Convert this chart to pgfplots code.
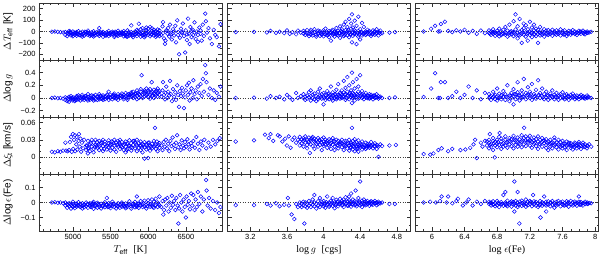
\documentclass[border=0pt]{standalone}
\usepackage{fontspec}
\setmainfont{Liberation Sans}
\newfontfamily\lserif{Liberation Serif}
\usepackage{pgfplots}
\usepackage{pgfplotstable}
\pgfplotsset{compat=1.18}

% ---------- column 1: Teff ----------
\pgfplotstableread{
x a b c
4720 -2 nan nan
4760 0 nan nan
4800 -3 nan nan
4835 -5 nan nan
4870 -8 nan nan
4900 -30 -5 nan
4925 -15 -40 nan
4950 -8 -25 5
4975 -35 -12 nan
5000 -20 0 -42
5025 -10 -28 nan
5050 -38 -5 -18
5075 -22 3 nan
5100 -12 -33 nan
5125 -27 -2 -45
5150 -15 -36 nan
5175 -6 -24 nan
5200 -30 -12 8
5225 -40 -18 nan
5250 -8 -26 nan
5275 -20 -44 2
5300 -14 -32 nan
5325 -25 -3 nan
5350 30 -18 -38
5375 -10 -28 nan
5400 -22 -4 -46
5425 -15 -34 nan
5450 -28 -8 nan
5475 -18 5 -40
5500 -12 -30 nan
5525 -24 -2 nan
5550 -35 -16 -48
5575 -8 -26 nan
5600 -20 6 -38
5625 -14 -30 nan
5650 -26 -4 nan
5675 -18 -42 4
5700 -10 -32 nan
5725 -24 10 -45
5750 -16 -36 nan
5775 53 -6 -22
5800 -30 -12 -50
5825 -2 -24 nan
5850 -16 -40 14
5875 68 -8 -28
5900 -20 20 -45
5925 -12 30 -34
5950 5 -26 -50
5975 -18 35 12
6000 -30 -4 25
6025 40 -15 -42
6050 8 -25 28
6075 -10 -35 15
6100 -20 5 -48
6125 18 -30 -8
6150 -15 -40 10
6175 -30 nan nan
6190 45 nan nan
6197 83 -15 nan
6210 -60 nan nan
6223 -108 nan nan
6230 -80 nan nan
6240 10 nan nan
6255 -20 5 nan
6265 30 nan nan
6280 -45 nan nan
6290 60 nan nan
6300 -10 -25 nan
6315 -70 nan nan
6330 20 nan nan
6345 -35 0 nan
6360 50 nan nan
6370 -95 nan nan
6385 98 nan nan
6397 -5 -30 nan
6410 -200 nan nan
6420 -55 nan nan
6435 25 nan nan
6450 -15 -5 nan
6460 70 nan nan
6475 -40 nan nan
6490 -184 nan nan
6500 10 nan nan
6515 -75 -25 nan
6530 113 nan nan
6540 -20 nan nan
6550 -110 nan nan
6560 40 nan nan
6575 -50 5 nan
6590 15 nan nan
6600 -30 nan nan
6615 80 -10 nan
6630 -65 nan nan
6645 0 nan nan
6660 -90 -30 nan
6680 35 nan nan
6695 -20 10 nan
6710 -80 nan nan
6725 60 nan nan
6740 -40 nan nan
6757 157 nan nan
6765 90 nan nan
6780 -10 nan nan
6800 30 nan nan
6820 -60 nan nan
6845 -110 nan nan
6870 15 nan nan
6890 -30 nan nan
6910 -50 nan nan
6940 -130 nan nan
6960 65 nan nan
}\tTa
\pgfplotstableread{
x y
4940 -18
4990 -28
5035 -14
5085 -32
5140 -20
5190 -8
5235 -30
5290 -16
5340 -26
5390 -12
5440 -36
5490 -22
5535 -10
5590 -30
5640 -16
5690 -26
5740 -6
5790 -34
5840 -20
5890 -10
5940 -30
5990 -14
6040 -28
6090 -6
6140 -26
4965 -2
5060 -24
5160 -2
5260 -36
5360 -4
5460 -20
5560 -2
5660 -14
5760 -28
5860 2
5960 -38
6060 -10
6110 -36
5710 -44
5610 -12
}\tTaX

\pgfplotstableread{
x a b c
4720 0 nan nan
4760 0.005 nan nan
4800 -0.005 nan nan
4835 0 nan nan
4870 -0.01 nan nan
4900 -0.03 0.01 nan
4925 -0.05 0.0 nan
4950 0.02 -0.02 -0.06
4975 -0.01 0.03 nan
5000 -0.04 0.01 -0.02
5025 0.0 -0.05 nan
5050 0.03 -0.03 0.01
5075 -0.02 0.04 nan
5100 0.0 -0.04 nan
5125 0.02 -0.02 0.05
5150 -0.03 0.01 nan
5175 0.03 -0.01 nan
5200 -0.04 0.02 0.06
5225 0.0 -0.03 nan
5250 0.04 -0.01 nan
5275 0.01 -0.04 0.03
5300 -0.02 0.05 nan
5325 0.02 -0.03 nan
5350 0.0 0.06 -0.02
5375 0.03 -0.01 nan
5400 -0.03 0.04 0.01
5425 0.02 -0.02 nan
5450 0.05 0.0 nan
5475 0.1 -0.03 0.02
5500 0.01 0.05 nan
5525 -0.02 0.03 nan
5550 0.04 0.0 0.07
5575 -0.01 0.03 nan
5600 0.02 0.06 -0.03
5625 0.0 0.04 nan
5650 0.07 0.02 nan
5675 -0.02 0.05 0.01
5700 0.03 0.08 nan
5725 0.0 0.05 -0.03
5750 0.04 0.01 nan
5775 0.09 0.02 0.06
5800 0.0 0.04 0.1
5825 0.07 0.02 nan
5850 0.03 0.12 -0.02
5875 0.06 0.0 nan
5900 0.1 0.03 0.14
5912 0.36 nan nan
5925 0.05 0.0 nan
5950 0.12 0.07 0.02
5975 0.15 0.04 nan
6000 0.09 0.02 0.12
6025 0.05 0.14 -0.01
6046 0.25 nan nan
6050 0.1 0.03 nan
6075 0.07 0.13 0.0
6100 0.04 0.1 nan
6125 0.08 0.02 0.15
6150 0.05 0.11 nan
6175 0.02 nan nan
6190 0.12 nan nan
6197 0.25 nan nan
6210 0.05 nan nan
6223 -0.02 nan nan
6230 0.08 nan nan
6240 0.18 nan nan
6255 0.0 nan nan
6265 0.1 nan nan
6280 0.04 nan nan
6290 0.27 nan nan
6300 0.06 nan nan
6315 -0.05 nan nan
6330 0.14 nan nan
6345 0.02 nan nan
6360 0.09 nan nan
6370 -0.03 nan nan
6385 0.2 nan nan
6397 0.05 nan nan
6410 -0.14 nan nan
6420 0.11 nan nan
6435 0.03 nan nan
6450 0.16 nan nan
6460 0.07 nan nan
6475 -0.16 nan nan
6490 0.01 nan nan
6500 0.12 nan nan
6515 0.2 nan nan
6530 0.05 nan nan
6540 0.24 nan nan
6550 -0.04 nan nan
6560 0.09 nan nan
6575 0.15 nan nan
6590 0.0 nan nan
6600 0.28 nan nan
6615 0.06 nan nan
6630 0.12 nan nan
6645 -0.02 nan nan
6660 0.18 nan nan
6680 0.08 nan nan
6695 0.22 nan nan
6710 0.03 nan nan
6725 0.3 nan nan
6740 0.1 nan nan
6757 0.52 nan nan
6765 0.39 nan nan
6775 0.25 nan nan
6800 0.05 nan nan
6820 0.15 nan nan
6845 0.0 nan nan
6870 0.12 nan nan
6890 -0.03 nan nan
6910 0.08 nan nan
6940 0.02 nan nan
6960 0.18 nan nan
}\tTb
\pgfplotstableread{
x y
4940 -0.01
4990 0.0
5035 -0.03
5085 0.02
5140 0.0
5190 -0.02
5235 0.03
5290 0.0
5340 0.02
5390 -0.01
5440 0.03
5490 0.0
5535 0.05
5590 0.02
5640 0.04
5690 0.01
5740 0.06
5790 0.03
5840 0.07
5890 0.05
5940 0.09
5990 0.06
6040 0.08
6090 0.06
6140 0.09
5060 0.0
5160 0.03
5260 -0.02
5360 0.03
5460 0.01
5560 0.02
5660 0.03
5760 0.05
5860 0.08
5960 0.1
6060 0.04
6110 0.12
}\tTbX

\pgfplotstableread{
x a b c
4720 0.009 nan nan
4760 0.008 nan nan
4800 0.01 nan nan
4835 0.009 nan nan
4870 0.011 nan nan
4900 0.025 nan nan
4910 0.011 nan nan
4930 0.01 nan nan
4950 0.012 nan nan
4960 0.026 nan nan
4975 0.035 nan nan
4985 0.009 nan nan
5000 0.04 nan nan
5005 0.014 nan nan
5015 0.03 nan nan
5025 0.038 nan nan
5030 0.01 nan nan
5045 0.022 nan nan
5050 0.035 nan nan
5060 0.013 nan nan
5075 0.028 nan nan
5080 0.04 nan nan
5090 0.018 nan nan
5100 0.032 nan nan
5110 0.009 nan nan
5120 0.025 nan nan
5135 0.015 nan nan
5150 0.03 nan nan
5175 0.02 0.012 nan
5200 0.028 0.015 0.006
5225 0.022 0.01 nan
5250 0.03 0.018 nan
5275 0.014 0.025 0.008
5300 0.021 0.03 nan
5325 0.016 0.026 nan
5350 0.012 0.028 0.02
5375 0.024 0.015 nan
5400 0.03 0.019 0.01
5425 0.022 0.027 nan
5450 0.013 0.02 nan
5475 0.029 0.017 0.024
5500 0.011 0.022 nan
5525 0.026 0.016 nan
5550 0.02 0.03 0.013
5575 0.025 0.009 nan
5600 0.018 0.028 nan
5625 0.022 0.014 0.03
5650 0.017 0.026 nan
5675 0.012 0.021 nan
5700 0.027 0.018 0.008
5725 0.023 0.014 nan
5750 0.029 0.019 nan
5775 0.011 0.024 0.017
5800 0.021 0.028 nan
5825 0.015 0.025 nan
5850 0.02 0.01 0.03
5875 0.024 0.016 nan
5900 0.019 0.027 0.012
5925 0.022 0.008 nan
5950 0.017 0.026 -0.003
5975 0.021 0.013 nan
6000 0.025 0.016 -0.002
6025 0.02 0.011 nan
6050 0.023 0.015 nan
6075 0.018 0.028 nan
6090 0.051 nan nan
6100 0.014 0.022 nan
6125 0.019 0.01 nan
6150 0.024 0.016 nan
6175 0.02 nan nan
6190 0.012 nan nan
6205 0.026 nan nan
6220 0.018 nan nan
6235 0.03 nan nan
6250 0.015 nan nan
6265 0.023 nan nan
6280 0.01 nan nan
6295 0.028 nan nan
6310 0.019 nan nan
6325 0.034 nan nan
6340 0.021 nan nan
6355 0.014 nan nan
6370 0.025 nan nan
6385 0.038 nan nan
6400 0.017 nan nan
6415 0.022 nan nan
6430 0.012 nan nan
6445 0.029 nan nan
6460 0.02 nan nan
6475 0.015 nan nan
6490 0.026 nan nan
6505 0.018 nan nan
6520 0.031 nan nan
6535 0.022 nan nan
6550 0.013 nan nan
6565 0.024 nan nan
6580 0.019 nan nan
6600 0.028 nan nan
6620 0.016 nan nan
6640 0.035 nan nan
6660 0.023 nan nan
6680 0.012 nan nan
6700 0.027 nan nan
6720 0.02 nan nan
6745 0.03 nan nan
6770 0.015 nan nan
6800 0.025 nan nan
6830 0.018 nan nan
6860 0.03 nan nan
6890 0.022 nan nan
6920 0.028 nan nan
6950 0.033 nan nan
}\tTc
\pgfplotstableread{
x y
5190 0.02
5240 0.024
5290 0.017
5340 0.022
5390 0.025
5440 0.018
5490 0.02
5540 0.024
5590 0.021
5640 0.019
5690 0.023
5740 0.02
5790 0.016
5840 0.022
5890 0.02
5940 0.021
5990 0.019
6040 0.018
6090 0.02
6140 0.021
5215 0.015
5315 0.019
5415 0.014
5515 0.027
5615 0.025
5715 0.012
5815 0.028
5915 0.016
6015 0.025
6115 0.027
}\tTcX

\pgfplotstableread{
x a b c
4720 0 nan nan
4760 0.002 nan nan
4800 -0.002 nan nan
4835 0 nan nan
4870 -0.005 nan nan
4900 -0.02 0.0 nan
4925 -0.035 -0.01 nan
4950 -0.005 -0.025 nan
4975 -0.04 -0.015 nan
5000 -0.01 -0.03 0.005
5025 -0.02 -0.038 nan
5050 -0.008 -0.028 nan
5075 -0.018 0.002 nan
5100 -0.03 -0.012 nan
5125 -0.04 -0.005 -0.022
5150 -0.015 -0.032 nan
5175 -0.025 0.0 nan
5200 -0.01 -0.035 nan
5225 -0.02 -0.005 nan
5250 -0.03 -0.015 nan
5275 -0.042 -0.008 0.004
5300 -0.022 -0.012 nan
5325 -0.035 -0.002 nan
5350 -0.018 -0.028 nan
5375 -0.008 -0.04 nan
5400 -0.025 -0.015 nan
5425 0.002 -0.032 nan
5450 0.03 -0.018 -0.01
5475 -0.028 -0.004 nan
5500 -0.015 -0.038 nan
5525 -0.022 0.005 nan
5550 -0.01 -0.03 nan
5575 -0.04 -0.018 nan
5600 -0.005 -0.025 nan
5625 -0.015 -0.035 nan
5650 -0.028 0.0 nan
5675 -0.012 -0.022 nan
5700 -0.038 -0.006 nan
5725 -0.02 -0.03 nan
5750 0.008 -0.014 nan
5775 -0.026 -0.04 nan
5800 -0.01 -0.02 nan
5825 -0.032 0.004 nan
5850 0.04 -0.018 -0.028
5875 -0.008 -0.036 nan
5900 -0.02 0.01 nan
5925 -0.03 -0.012 nan
5950 0.012 -0.024 nan
5975 -0.016 -0.04 nan
6000 -0.005 0.015 nan
6025 -0.028 -0.012 nan
6050 0.02 -0.02 nan
6075 -0.035 0.005 nan
6100 -0.015 0.025 nan
6125 -0.03 0.0 nan
6150 0.04 -0.02 nan
6175 -0.03 nan nan
6190 0.01 nan nan
6200 -0.08 nan nan
6210 -0.05 nan nan
6225 0.02 nan nan
6240 -0.02 nan nan
6255 0.03 nan nan
6270 -0.06 nan nan
6285 0.0 nan nan
6300 -0.035 nan nan
6315 0.045 nan nan
6330 -0.015 nan nan
6345 0.01 nan nan
6360 -0.05 nan nan
6375 0.03 nan nan
6390 -0.02 nan nan
6400 -0.14 nan nan
6410 -0.04 nan nan
6425 0.05 nan nan
6440 0.0 nan nan
6455 -0.06 nan nan
6470 0.02 nan nan
6485 -0.03 nan nan
6500 -0.1 nan nan
6510 0.04 nan nan
6525 -0.015 nan nan
6540 0.01 nan nan
6555 -0.045 nan nan
6570 0.06 nan nan
6585 -0.02 nan nan
6600 0.05 nan nan
6615 -0.05 nan nan
6630 0.02 nan nan
6645 -0.03 nan nan
6660 0.07 nan nan
6680 -0.01 nan nan
6700 0.04 nan nan
6720 -0.06 nan nan
6740 0.02 nan nan
6770 0.15 nan nan
6775 0.08 nan nan
6790 -0.02 nan nan
6810 0.03 nan nan
6830 -0.04 nan nan
6860 0.01 nan nan
6890 -0.05 nan nan
6915 0.0 nan nan
6940 -0.07 nan nan
6960 -0.03 nan nan
}\tTd
\pgfplotstableread{
x y
4940 -0.015
4990 -0.022
5035 -0.01
5085 -0.025
5140 -0.018
5190 -0.012
5235 -0.028
5290 -0.02
5340 -0.01
5390 -0.022
5440 -0.015
5490 -0.025
5535 -0.012
5590 -0.02
5640 -0.008
5690 -0.028
5740 -0.018
5790 -0.01
5840 -0.022
5890 -0.015
5940 -0.005
5990 -0.025
6040 -0.01
6090 -0.02
6140 -0.012
5060 -0.018
5260 -0.005
5460 -0.03
5660 -0.018
5860 -0.008
6060 -0.03
}\tTdX

% ---------- column 2: log g ----------
\pgfplotstableread{
x a b c
3.04 -5 nan nan
3.24 -3 nan nan
3.38 -8 nan nan
3.42 5 nan nan
3.48 -12 nan nan
3.52 -2 nan nan
3.57 -15 nan nan
3.60 10 nan nan
3.63 -20 nan nan
3.66 -5 nan nan
3.70 -25 nan nan
3.72 8 nan nan
3.75 -10 nan nan
3.78 -18 5 nan
3.80 -30 -8 nan
3.82 -12 12 nan
3.84 -40 -20 nan
3.86 0 -25 15
3.88 -15 -35 nan
3.90 -5 20 nan
3.92 -28 -45 nan
3.94 -10 8 -20
3.96 -38 2 nan
3.98 -18 -30 nan
4.00 10 -6 -42
4.02 -24 25 nan
4.04 -12 -34 nan
4.06 4 -50 -20
4.08 -8 -80 nan
4.10 -30 15 -16
4.12 -45 0 nan
4.14 -22 30 -10
4.16 -36 5 nan
4.18 -14 45 -55
4.20 -4 -26 20
4.22 60 -40 -10
4.24 12 -20 85
4.26 -32 0 40
4.28 110 -12 -50
4.30 25 -22 70
4.31 150 -95 nan
4.32 -6 35 -38
4.34 95 -16 10
4.36 -110 50 -28
4.38 5 -45 130
4.40 -20 20 -70
4.42 75 -8 -35
4.44 -18 40 nan
4.46 0 -30 nan
4.48 -12 15 nan
4.50 -25 5 nan
4.52 -8 -40 nan
4.54 10 -18 nan
4.56 -28 0 nan
4.58 -10 20 nan
4.60 -35 -5 nan
4.62 8 -20 nan
4.64 -15 nan nan
4.72 -10 nan nan
4.78 -5 nan nan
}\tGa
\pgfplotstableread{
x y
3.97 -12
4.01 -20
4.03 0
4.05 -28
4.07 -10
4.09 8
4.11 -22
4.13 -5
4.15 -30
4.17 -12
4.19 5
4.21 -18
4.23 -30
4.25 -8
4.27 10
4.29 -26
4.31 -10
4.33 -24
4.35 2
4.37 -14
4.39 -30
4.41 -4
4.43 -20
4.45 -10
4.47 -22
4.49 -2
4.51 -14
4.53 -26
4.55 -6
4.57 -16
4.61 -10
}\tGaX

\pgfplotstableread{
x a b c
3.04 0 nan nan
3.24 0.005 nan nan
3.38 -0.01 nan nan
3.42 0.03 nan nan
3.48 0.0 nan nan
3.52 0.02 nan nan
3.57 -0.02 nan nan
3.60 0.05 nan nan
3.63 0.01 nan nan
3.66 -0.03 nan nan
3.70 0.08 nan nan
3.72 0.0 nan nan
3.75 0.03 nan nan
3.78 0.0 0.06 nan
3.80 -0.03 0.02 nan
3.82 0.04 -0.01 nan
3.84 0.09 0.01 nan
3.86 -0.04 0.03 0.12
3.88 0.0 0.05 nan
3.90 -0.02 0.07 nan
3.92 0.03 -0.05 nan
3.94 0.1 0.01 -0.02
3.96 0.04 0.15 nan
3.98 -0.01 0.06 nan
4.00 0.02 -0.1 0.08
4.02 0.05 -0.03 nan
4.04 0.0 0.11 nan
4.06 0.07 -0.02 0.03
4.08 0.18 0.01 nan
4.10 0.04 -0.04 0.09
4.12 0.0 0.06 nan
4.14 0.13 0.02 -0.02
4.16 0.05 0.22 nan
4.18 -0.01 0.08 0.03
4.20 0.12 0.0 0.05
4.22 0.27 0.02 0.09
4.24 -0.03 0.06 0.16
4.26 0.03 0.33 0.1
4.28 0.07 -0.02 0.2
4.30 0.01 0.12 0.05
4.31 0.4 -0.08 nan
4.32 0.08 0.25 0.0
4.34 0.04 0.15 -0.04
4.36 0.3 0.06 0.02
4.38 0.1 -0.01 0.18
4.40 0.03 0.07 0.36
4.42 0.0 0.11 nan
4.44 0.05 -0.02 nan
4.46 0.08 0.02 nan
4.48 0.0 0.04 nan
4.50 0.06 -0.01 nan
4.52 0.02 0.05 nan
4.54 -0.02 0.03 nan
4.56 0.04 0.0 nan
4.58 0.01 0.06 nan
4.60 -0.01 0.03 nan
4.62 0.02 nan nan
4.64 0.0 nan nan
4.72 0.0 nan nan
4.78 0.01 nan nan
}\tGb
\pgfplotstableread{
x y
3.97 0.02
4.01 0.0
4.03 0.04
4.05 0.01
4.07 0.05
4.09 -0.01
4.11 0.03
4.13 0.06
4.15 0.0
4.17 0.04
4.19 0.07
4.21 0.02
4.23 0.05
4.25 0.0
4.27 0.04
4.29 0.08
4.31 0.03
4.33 0.06
4.35 0.01
4.37 0.04
4.39 0.0
4.41 0.05
4.43 0.02
4.45 0.04
4.47 0.01
4.49 0.03
4.51 0.0
4.53 0.02
4.55 0.04
4.57 0.01
4.61 0.01
}\tGbX

\pgfplotstableread{
x a b c
3.04 0.027 nan nan
3.24 0.029 nan nan
3.36 0.039 nan nan
3.40 0.033 nan nan
3.42 0.04 nan nan
3.45 0.028 nan nan
3.50 0.038 nan nan
3.52 0.036 nan nan
3.55 0.027 nan nan
3.58 0.032 nan nan
3.60 0.02 nan nan
3.62 0.036 nan nan
3.64 0.016 nan nan
3.66 0.03 nan nan
3.68 0.034 nan nan
3.70 0.025 nan nan
3.72 0.03 nan nan
3.74 0.027 0.035 0.02
3.76 0.031 0.024 nan
3.78 0.018 0.033 0.028
3.80 0.025 0.036 nan
3.82 0.03 0.021 0.015
3.84 0.034 0.026 nan
3.85 0.007 nan nan
3.86 0.022 0.031 0.028
3.88 0.035 0.019 nan
3.90 0.027 0.014 0.032
3.92 0.023 0.03 nan
3.94 0.018 0.033 0.026
3.96 0.029 0.021 nan
3.98 0.012 0.031 0.025
4.00 0.027 0.019 0.034
4.02 0.022 0.03 nan
4.04 0.016 0.028 0.024
4.06 0.031 0.02 nan
4.08 0.025 0.014 0.029
4.10 0.021 0.033 nan
4.12 0.018 0.027 0.012
4.14 0.024 0.03 nan
4.16 0.02 0.015 0.028
4.18 0.026 0.022 nan
4.20 0.017 0.03 0.024
4.22 0.021 0.012 nan
4.24 0.028 0.019 0.025
4.26 0.015 0.023 nan
4.28 0.03 0.02 0.011
4.30 0.025 0.017 0.022
4.31 0.051 nan nan
4.32 0.013 0.028 0.019
4.34 0.024 0.01 0.031
4.36 0.018 0.026 0.014
4.38 0.022 0.009 0.029
4.40 0.016 0.024 0.02
4.42 0.027 0.013 nan
4.44 0.021 0.017 nan
4.46 0.025 0.014 nan
4.48 0.019 0.023 nan
4.50 0.016 0.022 nan
4.52 0.02 0.026 nan
4.54 0.015 0.022 nan
4.56 0.019 0.024 nan
4.58 0.021 0.014 nan
4.60 0.018 0.0 nan
4.62 0.022 nan nan
4.64 0.019 nan nan
4.72 0.02 nan nan
4.79 0.021 nan nan
}\tGc
\pgfplotstableread{
x y
3.79 0.03
3.83 0.027
3.87 0.033
3.91 0.025
3.95 0.029
3.99 0.022
4.03 0.026
4.07 0.023
4.11 0.028
4.15 0.021
4.19 0.025
4.23 0.02
4.27 0.024
4.29 0.016
4.31 0.021
4.33 0.018
4.35 0.022
4.37 0.015
4.39 0.019
4.41 0.022
4.43 0.018
4.45 0.02
4.47 0.016
4.49 0.02
4.51 0.018
4.55 0.019
4.59 0.02
}\tGcX

\pgfplotstableread{
x a b c
3.04 -0.018 nan nan
3.24 -0.018 nan nan
3.38 -0.01 nan nan
3.42 -0.02 nan nan
3.48 -0.005 nan nan
3.52 -0.025 nan nan
3.57 -0.015 nan nan
3.61 0.03 nan nan
3.62 -0.02 nan nan
3.65 -0.08 nan nan
3.68 -0.11 nan nan
3.70 -0.01 nan nan
3.72 -0.03 nan nan
3.74 -0.02 0.0 nan
3.76 -0.01 -0.03 nan
3.78 0.005 -0.018 nan
3.79 -0.14 nan nan
3.80 -0.025 0.0 nan
3.82 -0.012 -0.035 nan
3.84 0.01 -0.02 nan
3.86 -0.03 -0.005 nan
3.88 0.02 -0.015 nan
3.90 0.05 -0.025 0.0
3.92 -0.01 -0.04 nan
3.94 0.008 -0.02 nan
3.96 -0.03 0.03 nan
3.98 -0.012 0.005 nan
4.00 -0.025 0.01 nan
4.02 -0.005 -0.035 nan
4.04 0.04 -0.015 nan
4.06 -0.028 0.0 nan
4.08 0.012 -0.01 nan
4.10 -0.022 0.03 nan
4.12 0.0 -0.038 nan
4.14 0.018 -0.012 nan
4.16 -0.025 0.006 nan
4.18 0.025 -0.005 nan
4.20 -0.018 0.01 nan
4.22 0.0 -0.03 0.02
4.24 -0.01 0.035 nan
4.26 0.008 -0.022 nan
4.28 -0.012 0.015 0.04
4.30 0.0 -0.028 0.06
4.32 0.02 -0.008 nan
4.34 -0.018 0.01 nan
4.35 0.08 nan nan
4.36 0.005 -0.025 nan
4.38 0.03 -0.01 nan
4.40 0.14 0.0 -0.02
4.42 0.012 -0.03 nan
4.44 -0.008 0.02 nan
4.46 0.005 -0.018 nan
4.48 -0.01 0.01 nan
4.50 0.0 -0.022 nan
4.52 -0.012 0.008 nan
4.54 0.004 -0.015 nan
4.56 -0.005 0.01 nan
4.58 -0.018 0.0 nan
4.60 0.005 -0.01 nan
4.62 -0.005 nan nan
4.64 0.0 nan nan
4.72 -0.01 nan nan
4.78 -0.01 nan nan
}\tGd
\pgfplotstableread{
x y
3.97 -0.008
4.01 -0.015
4.03 0.002
4.05 -0.01
4.07 -0.02
4.09 0.0
4.11 -0.008
4.13 -0.018
4.15 0.004
4.17 -0.012
4.19 -0.002
4.21 -0.015
4.23 0.005
4.25 -0.008
4.27 -0.02
4.29 0.002
4.31 -0.012
4.33 0.0
4.35 -0.015
4.37 -0.004
4.39 0.006
4.41 -0.01
4.43 -0.002
4.45 -0.012
4.47 0.0
4.49 -0.006
4.51 0.004
4.53 -0.008
4.57 -0.004
4.61 -0.002
}\tGdX

% ---------- column 3: log eps(Fe) ----------
\pgfplotstableread{
x a b c
5.90 0 nan nan
5.99 24 nan nan
6.04 50 nan nan
6.08 0 nan nan
6.10 2 nan nan
6.11 66 nan nan
6.16 86 nan nan
6.20 5 nan nan
6.25 -5 nan nan
6.30 10 nan nan
6.35 0 nan nan
6.40 15 nan nan
6.45 -10 nan nan
6.50 5 nan nan
6.55 -20 nan nan
6.60 8 nan nan
6.65 -15 nan nan
6.700 -12 10 nan
6.725 -30 0 nan
6.750 -5 -20 20
6.775 -38 -10 nan
6.800 5 -25 nan
6.825 -15 25 -42
6.850 -2 -32 nan
6.875 15 -18 nan
6.900 -28 40 -8
6.925 -45 8 nan
6.950 -14 60 -30
6.975 2 -22 nan
7.000 90 -40 -6
7.025 18 -26 150
7.050 -12 45 -60
7.075 110 -2 -34
7.100 -100 12 -18
7.125 70 -28 30
7.150 -8 -45 55
7.175 20 -16 -80
7.200 85 -30 0
7.225 -10 35 -50
7.250 10 -24 60
7.275 -40 -4 25
7.300 -100 15 -20
7.325 40 -12 -35
7.350 0 -28 nan
7.375 20 -8 -45
7.400 -18 8 nan
7.425 -30 12 nan
7.450 -6 -22 nan
7.475 15 -38 nan
7.500 -12 0 nan
7.525 -28 10 nan
7.550 -4 -20 nan
7.575 18 -35 nan
7.600 -15 2 nan
7.625 -25 10 nan
7.650 -8 -40 nan
7.675 5 -18 nan
7.700 -28 -2 nan
7.725 12 -15 nan
7.750 -22 0 nan
7.775 -8 -30 nan
7.800 6 -15 nan
7.825 -20 0 nan
7.850 -10 8 nan
7.875 -25 -5 nan
7.900 0 -12 nan
7.925 -8 nan nan
7.950 -3 nan nan
}\tEa
\pgfplotstableread{
x y
6.71 -20
6.76 -8
6.81 -15
6.86 -22
6.91 -14
6.96 -2
7.01 -18
7.06 -30
7.11 -8
7.16 -20
7.21 -12
7.26 -28
7.31 -6
7.36 -16
7.41 -26
7.46 -10
7.51 -20
7.56 -12
7.61 -26
7.66 -20
7.71 -12
7.76 -16
7.81 -6
7.86 -18
7.91 -10
}\tEaX

\pgfplotstableread{
x a b c
5.90 0.016 nan nan
5.99 0.15 nan nan
6.04 0.39 nan nan
6.08 0.0 nan nan
6.10 0.0 nan nan
6.11 0.25 nan nan
6.16 0.25 nan nan
6.20 0.0 nan nan
6.25 0.03 nan nan
6.30 0.1 nan nan
6.35 0.0 nan nan
6.40 0.05 nan nan
6.45 0.18 nan nan
6.50 0.0 nan nan
6.55 0.12 nan nan
6.60 -0.02 nan nan
6.65 0.08 nan nan
6.700 0.0 0.06 nan
6.725 0.03 -0.03 nan
6.750 0.1 0.01 nan
6.775 -0.02 0.05 nan
6.800 0.02 0.15 -0.04
6.825 0.07 0.0 nan
6.850 0.04 -0.02 nan
6.875 0.11 0.02 nan
6.900 -0.03 0.06 nan
6.925 0.2 0.01 nan
6.950 0.04 -0.05 nan
6.975 0.08 0.0 nan
7.000 -0.1 0.03 0.14
7.025 0.06 -0.02 nan
7.050 0.25 0.01 0.09
7.075 0.04 -0.04 nan
7.100 0.12 0.0 0.06
7.125 0.3 0.02 nan
7.150 -0.02 0.08 nan
7.175 0.05 0.17 nan
7.200 0.0 0.1 0.03
7.225 0.22 -0.03 nan
7.250 0.06 0.02 nan
7.275 0.13 -0.01 nan
7.300 0.04 0.28 nan
7.325 0.0 0.08 nan
7.350 0.15 0.03 nan
7.375 -0.02 0.06 nan
7.400 0.1 0.01 nan
7.425 0.04 -0.03 nan
7.450 0.07 0.0 nan
7.475 0.02 0.12 nan
7.500 -0.02 0.05 nan
7.525 0.08 0.01 nan
7.550 0.03 -0.03 nan
7.575 0.06 0.0 nan
7.600 0.02 0.09 nan
7.625 -0.02 0.04 nan
7.650 0.06 0.0 nan
7.675 0.02 -0.03 nan
7.700 0.05 0.0 nan
7.725 0.01 0.07 nan
7.750 -0.02 0.03 nan
7.775 0.04 0.0 nan
7.800 0.02 -0.02 nan
7.825 0.05 0.0 nan
7.850 0.01 0.03 nan
7.875 -0.01 0.02 nan
7.900 0.0 0.04 nan
7.925 0.01 nan nan
7.950 0.0 nan nan
}\tEb
\pgfplotstableread{
x y
6.71 0.02
6.76 0.03
6.81 0.0
6.86 0.05
6.91 0.02
6.96 0.03
7.01 0.06
7.06 0.04
7.11 0.02
7.16 0.04
7.21 0.06
7.26 0.03
7.31 0.05
7.36 0.01
7.41 0.04
7.46 0.03
7.51 0.02
7.56 0.04
7.61 0.0
7.66 0.03
7.71 0.02
7.76 0.01
7.81 0.03
7.86 0.0
7.91 0.02
}\tEbX

\pgfplotstableread{
x a b c
5.90 0.005 nan nan
5.98 0.004 nan nan
6.02 0.006 nan nan
6.08 0.012 nan nan
6.12 0.015 nan nan
6.20 0.01 nan nan
6.25 0.014 nan nan
6.35 0.012 nan nan
6.41 0.013 nan nan
6.47 0.016 nan nan
6.51 0.022 nan nan
6.53 0.03 nan nan
6.55 -0.002 nan nan
6.60 0.025 nan nan
6.62 0.018 nan nan
6.65 0.028 nan nan
6.71 0.04 nan nan
6.77 -0.001 nan nan
6.83 0.042 nan nan
7.13 0.051 nan nan
6.675 0.02 0.027 nan
6.700 0.015 0.025 0.03
6.725 0.022 0.018 nan
6.750 0.028 0.012 0.033
6.775 0.02 0.026 nan
6.800 0.017 0.03 0.023
6.825 0.035 0.021 nan
6.850 0.014 0.027 0.032
6.875 0.024 0.018 nan
6.900 0.03 0.02 0.036
6.925 0.026 0.016 nan
6.950 0.033 0.022 0.028
6.975 0.019 0.031 nan
7.000 0.025 0.037 0.015
7.025 0.029 0.021 nan
7.050 0.034 0.018 0.026
7.075 0.023 0.031 nan
7.100 0.038 0.027 0.017
7.125 0.022 0.033 nan
7.150 0.029 0.019 0.036
7.175 0.025 0.032 nan
7.200 0.02 0.03 0.037
7.225 0.026 0.016 nan
7.250 0.034 0.023 0.029
7.275 0.019 0.031 nan
7.300 0.027 0.036 0.014
7.325 0.022 0.03 nan
7.350 0.033 0.018 0.026
7.375 0.024 0.029 nan
7.400 0.016 0.031 0.021
7.425 0.027 0.012 nan
7.450 0.022 0.03 0.018
7.475 0.025 0.015 nan
7.500 0.029 0.02 0.034
7.525 0.017 0.025 nan
7.550 0.022 0.03 0.013
7.575 0.026 0.018 nan
7.600 0.02 0.028 0.015
7.625 0.023 0.017 nan
7.650 0.027 0.019 0.012
7.675 0.022 0.025 nan
7.700 0.016 0.024 0.02
7.725 0.021 0.013 nan
7.750 0.018 0.025 0.022
7.775 0.015 0.02 nan
7.800 0.023 0.017 0.026
7.825 0.019 0.014 nan
7.850 0.021 0.025 nan
7.875 0.017 0.022 nan
7.900 0.02 0.015 nan
7.925 0.022 nan nan
7.950 0.018 nan nan
}\tEc
\pgfplotstableread{
x y
6.71 0.021
6.76 0.024
6.81 0.026
6.86 0.022
6.91 0.025
6.96 0.027
7.01 0.03
7.06 0.024
7.11 0.029
7.16 0.026
7.21 0.028
7.26 0.025
7.31 0.022
7.36 0.028
7.41 0.025
7.46 0.024
7.51 0.022
7.56 0.02
7.61 0.023
7.66 0.021
7.71 0.019
7.76 0.02
7.81 0.02
7.86 0.018
7.91 0.019
}\tEcX

\pgfplotstableread{
x a b c
5.90 0 nan nan
5.98 0.005 nan nan
6.05 0.0 nan nan
6.10 0.01 nan nan
6.12 0.04 nan nan
6.18 0.0 nan nan
6.20 0.04 nan nan
6.25 -0.005 nan nan
6.30 0.01 nan nan
6.32 0.025 nan nan
6.38 -0.02 nan nan
6.42 0.0 nan nan
6.45 0.02 nan nan
6.50 -0.02 nan nan
6.55 0.005 nan nan
6.60 -0.01 nan nan
6.65 0.01 nan nan
6.700 -0.01 0.005 nan
6.725 -0.02 0.0 nan
6.750 0.008 -0.015 nan
6.775 -0.025 -0.005 nan
6.800 0.01 -0.018 nan
6.825 -0.008 -0.03 nan
6.850 0.003 -0.012 nan
6.875 -0.022 0.05 nan
6.900 0.0 -0.01 0.07
6.925 -0.025 0.012 nan
6.950 -0.005 -0.015 nan
6.975 0.008 -0.028 nan
7.000 -0.012 0.002 nan
7.010 0.14 -0.06 nan
7.025 -0.02 0.01 nan
7.050 0.0 -0.03 0.07
7.070 -0.14 nan nan
7.075 -0.012 0.006 nan
7.100 -0.022 0.012 nan
7.125 0.0 -0.015 nan
7.150 -0.008 0.02 -0.028
7.175 0.005 -0.018 nan
7.200 -0.01 0.01 nan
7.225 -0.025 0.0 nan
7.240 0.05 nan nan
7.250 0.008 -0.012 nan
7.275 -0.02 0.004 nan
7.300 -0.006 -0.03 nan
7.325 0.01 -0.015 nan
7.330 -0.1 nan nan
7.350 -0.022 0.002 nan
7.375 0.04 -0.01 nan
7.400 -0.06 0.005 -0.02
7.425 -0.012 0.008 nan
7.450 -0.025 0.0 nan
7.475 0.01 -0.015 nan
7.500 -0.035 -0.005 nan
7.525 0.004 -0.02 nan
7.550 -0.01 0.01 nan
7.575 -0.025 0.0 nan
7.600 0.006 -0.012 nan
7.625 -0.02 -0.003 nan
7.650 0.008 -0.015 nan
7.675 -0.028 0.0 nan
7.700 -0.01 0.01 nan
7.725 0.002 -0.02 nan
7.750 -0.012 0.006 nan
7.775 -0.022 0.0 nan
7.800 0.04 -0.008 0.005
7.825 -0.015 0.003 nan
7.850 -0.005 -0.02 nan
7.875 0.005 -0.01 nan
7.900 -0.008 0.0 nan
7.925 -0.003 nan nan
7.950 -0.005 nan nan
}\tEd
\pgfplotstableread{
x y
6.71 -0.005
6.76 -0.012
6.81 -0.002
6.86 -0.008
6.91 -0.018
6.96 0.0
7.01 -0.008
7.06 -0.015
7.11 -0.004
7.16 -0.012
7.21 0.002
7.26 -0.008
7.31 -0.018
7.36 -0.006
7.41 -0.012
7.46 -0.002
7.51 -0.014
7.56 -0.006
7.61 -0.018
7.66 -0.004
7.71 -0.012
7.76 -0.008
7.81 -0.014
7.86 -0.002
7.91 -0.01
}\tEdX

\pgfplotsset{
  panel/.style={
    scale only axis, width=183pt, height=57pt, anchor=south west,
    clip mode=individual,
    scaled x ticks=false, scaled y ticks=false,
    axis line style={draw=black!80, line width=0.8pt},
    every tick/.style={black!80, line width=0.45pt},
    major tick length=4pt, minor tick length=2pt, tick align=inside,
    tick label style={font=\fontsize{7.5}{8}\selectfont},
    label style={font=\fontsize{8}{9}\selectfont},
    every axis y label/.style={at={(axis description cs:-0.169,0.5)}, rotate=90, anchor=center},
    every axis x label/.style={at={(axis description cs:0.5,-0.33)}, anchor=center},
    xticklabels={}, yticklabels={},
  },
  colT/.style={xmin=4550, xmax=6980, xtick={5000,5500,6000,6500},
    minor xtick={4600,4700,...,6900}},
  colG/.style={xmin=2.95, xmax=4.95, xtick={3.2,3.6,4,4.4,4.8},
    minor xtick={3.0,3.1,...,4.9}},
  colE/.style={xmin=5.8, xmax=8.04, xtick={6,6.4,6.8,7.2,7.6,8},
    minor xtick={5.9,6.0,...,8.0}},
  rowA/.style={ymin=-250, ymax=250, ytick={-200,-100,0,100,200},
    minor ytick={-250,-200,...,250}},
  rowB/.style={ymin=-0.3, ymax=0.6, ytick={-0.2,0,0.2,0.4},
    minor ytick={-0.3,-0.2,...,0.6}},
  rowC/.style={ymin=-0.03, ymax=0.07, ytick={0,0.03,0.06},
    minor ytick={-0.03,-0.02,...,0.07}},
  rowD/.style={ymin=-0.19, ymax=0.19, ytick={-0.1,0,0.1},
    minor ytick={-0.15,-0.1,...,0.15}},
  pts/.style={only marks, mark=o, mark size=1.9pt, color=blue, mark options={line width=0.5pt}},
  zl/.style={black!75, dotted, line width=0.5pt, forget plot},
}

\newcommand{\pts}[2]{%
  \addplot[pts] table[x=x,y=a] {#1};
  \addplot[pts] table[x=x,y=b] {#1};
  \addplot[pts] table[x=x,y=c] {#1};
  \addplot[pts] table[x=x,y=y] {#2};
}

\begin{document}
\begin{tikzpicture}
\path[use as bounding box] (0,0) rectangle (600pt,255pt);

% ===== column 1 =====
\begin{axis}[panel, colT, rowA, at={(39pt,195pt)},
  yticklabels={−200,−100,0,100,200},
  ylabel={$\Delta T_{\rm eff}$ [K]}]
  \addplot[zl] coordinates {(4550,0) (6980,0)};
  \pts{\tTa}{\tTaX}
\end{axis}
\begin{axis}[panel, colT, rowB, at={(39pt,138pt)},
  yticklabels={−0.2,0,0.2,0.4},
  ylabel={$\Delta$log\,$g$}]
  \addplot[zl] coordinates {(4550,0) (6980,0)};
  \pts{\tTb}{\tTbX}
\end{axis}
\begin{axis}[panel, colT, rowC, at={(39pt,81pt)},
  yticklabels={0,0.03,0.06},
  ylabel={$\Delta\xi_{\rm t}$ [km/s]}]
  \addplot[zl] coordinates {(4550,0) (6980,0)};
  \pts{\tTc}{\tTcX}
\end{axis}
\begin{axis}[panel, colT, rowD, at={(39pt,24pt)},
  yticklabels={−0.1,0,0.1},
  xticklabels={5000,5500,6000,6500},
  ylabel={$\Delta$log\,$\epsilon$(Fe)},
  xlabel={$T_{\rm eff}$\ \ {\lserif[K]}}]
  \addplot[zl] coordinates {(4550,0) (6980,0)};
  \pts{\tTd}{\tTdX}
\end{axis}

% ===== column 2 =====
\begin{axis}[panel, colG, rowA, at={(227.5pt,195pt)}]
  \addplot[zl] coordinates {(2.95,0) (4.95,0)};
  \pts{\tGa}{\tGaX}
\end{axis}
\begin{axis}[panel, colG, rowB, at={(227.5pt,138pt)}]
  \addplot[zl] coordinates {(2.95,0) (4.95,0)};
  \pts{\tGb}{\tGbX}
\end{axis}
\begin{axis}[panel, colG, rowC, at={(227.5pt,81pt)}]
  \addplot[zl] coordinates {(2.95,0) (4.95,0)};
  \pts{\tGc}{\tGcX}
\end{axis}
\begin{axis}[panel, colG, rowD, at={(227.5pt,24pt)},
  xticklabels={3.2,3.6,4,4.4,4.8},
  xlabel={{\lserif log}\,$g$\ \ {\lserif [cgs]}}]
  \addplot[zl] coordinates {(2.95,0) (4.95,0)};
  \pts{\tGd}{\tGdX}
\end{axis}

% ===== column 3 =====
\begin{axis}[panel, colE, rowA, at={(415.5pt,195pt)}]
  \addplot[zl] coordinates {(5.8,0) (8.04,0)};
  \pts{\tEa}{\tEaX}
\end{axis}
\begin{axis}[panel, colE, rowB, at={(415.5pt,138pt)}]
  \addplot[zl] coordinates {(5.8,0) (8.04,0)};
  \pts{\tEb}{\tEbX}
\end{axis}
\begin{axis}[panel, colE, rowC, at={(415.5pt,81pt)}]
  \addplot[zl] coordinates {(5.8,0) (8.04,0)};
  \pts{\tEc}{\tEcX}
\end{axis}
\begin{axis}[panel, colE, rowD, at={(415.5pt,24pt)},
  xticklabels={6,6.4,6.8,7.2,7.6,8},
  xlabel={{\lserif log} $\epsilon${\lserif (Fe)}}]
  \addplot[zl] coordinates {(5.8,0) (8.04,0)};
  \pts{\tEd}{\tEdX}
\end{axis}
\end{tikzpicture}
\end{document}
